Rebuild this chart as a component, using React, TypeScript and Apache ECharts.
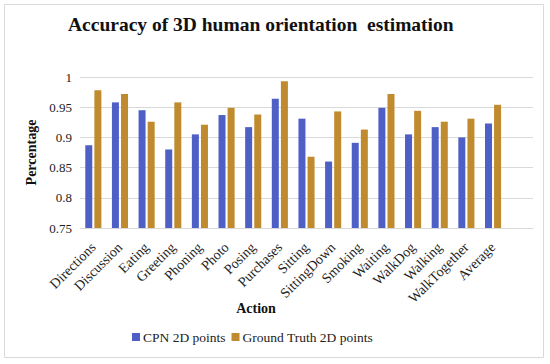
import React, { useEffect, useRef } from "react";
import * as echarts from "echarts";

const categories = [
  "Directions", "Discussion", "Eating", "Greeting", "Phoning", "Photo", "Posing", "Purchases",
  "Sitting", "SittingDown", "Smoking", "Waiting", "WalkDog", "Walking", "WalkTogether", "Average", "",
];
const cpnValues = [
  0.887, 0.958, 0.945, 0.880, 0.905, 0.937, 0.917, 0.964,
  0.931, 0.860, 0.891, 0.949, 0.905, 0.917, 0.900, 0.923, null,
];
const gtValues = [
  0.978, 0.972, 0.926, 0.958, 0.921, 0.949, 0.938, 0.993,
  0.868, 0.943, 0.913, 0.972, 0.944, 0.926, 0.931, 0.954, null,
];
const yTicks = { min: 0.75, max: 1, interval: 0.05 };

const FONT = "'Liberation Serif', serif";

export default function App() {
  const ref = useRef<HTMLDivElement>(null);
  useEffect(() => {
    document.body.style.margin = "0";
    if (!ref.current) return;
    const chart = echarts.init(ref.current, undefined, { renderer: "svg" });
    chart.setOption({
      animation: false,
      backgroundColor: "#ffffff",
      title: {
        text: "Accuracy of 3D human orientation  estimation",
        left: 63,
        top: 9,
        textStyle: { fontFamily: FONT, fontWeight: "bold", fontSize: 19.5, color: "#111" },
      },
      graphic: [
        {
          type: "rect",
          shape: { x: 4.5, y: 4.5, width: 539, height: 353 },
          style: { fill: "none", stroke: "#d9d9d9", lineWidth: 1 },
          silent: true,
        },
        {
          type: "text",
          x: 256,
          y: 308,
          style: {
            text: "Action",
            fontFamily: FONT,
            fontWeight: "bold",
            fontSize: 14,
            fill: "#111",
            textAlign: "center",
            textVerticalAlign: "middle",
          },
        },
      ],
      legend: {
        left: 127,
        top: 325,
        itemWidth: 8,
        itemHeight: 8,
        itemGap: 6,
        icon: "rect",
        textStyle: { fontFamily: FONT, fontSize: 13.5, color: "#222", padding: [0, 0, 0, -2] },
        data: ["CPN 2D points", "Ground Truth 2D points"],
      },
      grid: { left: 80, right: 17, top: 77, bottom: 136, containLabel: false },
      xAxis: {
        type: "category",
        data: categories,
        axisLine: { lineStyle: { color: "#d9d9d9" } },
        axisTick: { show: false },
        axisLabel: {
          rotate: 45,
          interval: 0,
          margin: 17,
          fontFamily: FONT,
          fontSize: 14,
          color: "#222",
        },
      },
      yAxis: {
        type: "value",
        min: yTicks.min,
        max: yTicks.max,
        interval: yTicks.interval,
        name: "Percentage",
        nameLocation: "middle",
        nameGap: 40,
        nameTextStyle: { fontFamily: FONT, fontWeight: "bold", fontSize: 14, color: "#111" },
        axisLine: { show: false },
        axisTick: { show: false },
        splitLine: { lineStyle: { color: "#d9d9d9" } },
        axisLabel: {
          fontFamily: FONT,
          fontSize: 13,
          color: "#222",
          margin: 8,
          formatter: (v: number) => String(Math.round(v * 100) / 100),
        },
      },
      series: [
        {
          name: "CPN 2D points",
          type: "bar",
          data: cpnValues,
          barWidth: 7,
          barGap: "30%",
          itemStyle: { color: "#4E5FC6" },
        },
        {
          name: "Ground Truth 2D points",
          type: "bar",
          data: gtValues,
          barWidth: 7,
          itemStyle: { color: "#C08A2E" },
        },
      ],
    });
    return () => chart.dispose();
  }, []);
  return <div ref={ref} style={{ width: 550, height: 364 }} />;
}
